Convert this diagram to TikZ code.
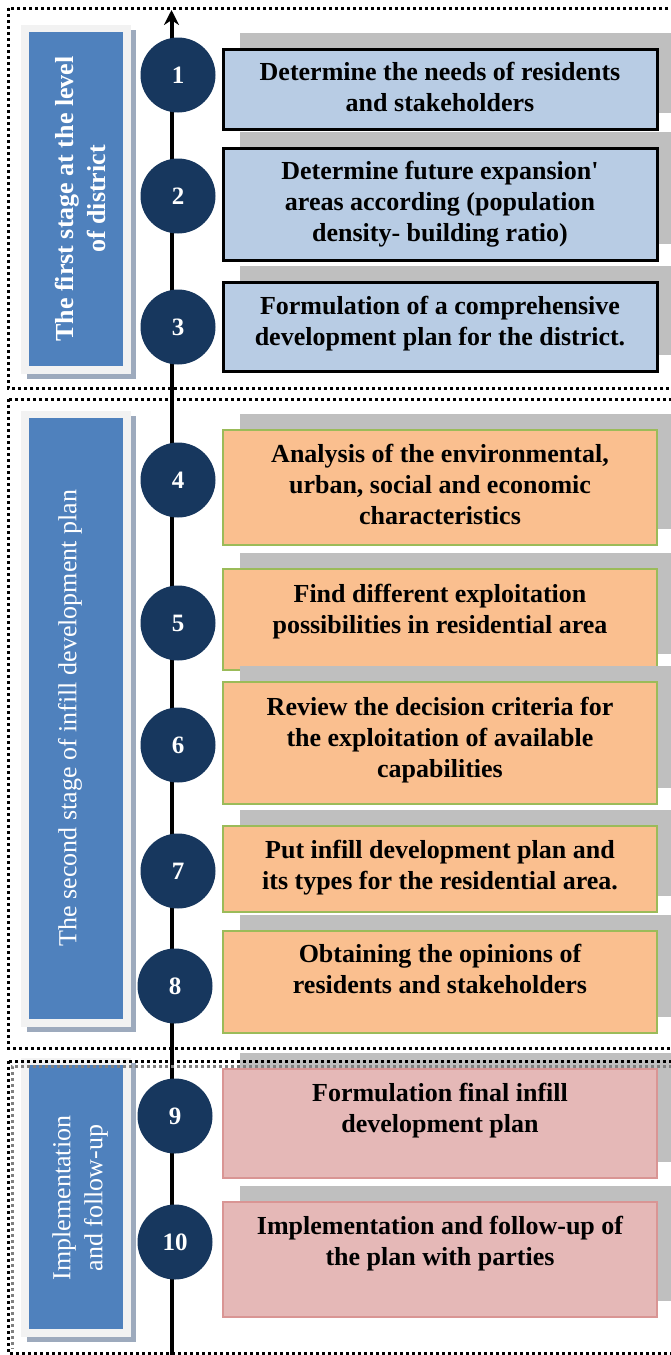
\documentclass[tikz,border=0pt]{standalone}
\usepackage{fontspec}
\setmainfont{Liberation Serif}
\usetikzlibrary{arrows.meta, positioning}
\usepackage{xcolor}
\definecolor{navy}{RGB}{23,55,94}
\definecolor{stageblue}{RGB}{79,129,189}
\definecolor{panelgray}{RGB}{242,242,242}
\definecolor{panelshadow}{RGB}{157,170,189}
\definecolor{boxshadow}{RGB}{191,191,191}
\definecolor{lightblue}{RGB}{184,204,228}
\definecolor{peach}{RGB}{250,191,143}
\definecolor{leafgreen}{RGB}{155,187,89}
\definecolor{rose}{RGB}{229,184,183}
\definecolor{roseline}{RGB}{217,149,148}
\tikzset{numnode/.style={circle, fill=navy, minimum size=75pt, inner sep=0pt, text=white, font=\bfseries\fontsize{25}{30}\selectfont},
taskbox/.style={rectangle, minimum width=434pt, inner sep=0pt, outer sep=0pt},
shadowbox/.style={taskbox, fill=boxshadow},
bluetask/.style={taskbox, fill=lightblue, draw=black, line width=3pt},
peachtask/.style={taskbox, fill=peach, draw=leafgreen, line width=2.5pt},
rosetask/.style={taskbox, fill=rose, draw=roseline, line width=2.5pt},
tasktext/.style={align=center, inner sep=0pt, font=\bfseries\fontsize{26}{31}\selectfont},
stagetext/.style={rotate=90, text=white, align=center, inner sep=0pt, font=\fontsize{26}{32}\selectfont},
stageframe/.style={draw=black, dash pattern=on 3pt off 3pt, line width=3pt}}

\begin{document}
\begin{tikzpicture}[x=1pt, y=-1pt]
        \useasboundingbox (0,0) rectangle (670,1355);
        % Task boxes with their shadows
        \foreach \n/\c/\h/\kind/\ty/\txt in {
            1/89/80/bluetask/91/{Determine the needs of residents\\and stakeholders},
            2/204/112/bluetask/206/{Determine future expansion\textquotesingle\\areas according (population\\density- building ratio)},
            3/326.5/89/bluetask/325/{Formulation of a comprehensive\\development plan for the district.},
            4/487.5/115/peachtask/489/{Analysis of the environmental,\\urban, social and economic\\characteristics},
            5/619.5/101/peachtask/613/{Find different exploitation\\possibilities in residential area},
            6/743/122/peachtask/742/{Review the decision criteria for\\the exploitation of available\\capabilities},
            7/869/86/peachtask/869/{Put infill development plan and\\its types for the residential area.},
            8/982/102/peachtask/973/{Obtaining the opinions of\\residents and stakeholders},
            9/1123.5/109/rosetask/1112/{Formulation final infill\\development plan},
            10/1259.5/115/rosetask/1245/{Implementation and follow-up of\\the plan with parties}} {
            \node[shadowbox, minimum height=\h pt] (shd\n) at (457,\c-16) {};
            \node[\kind, minimum height=\h pt] (box\n) at (440,\c) {};
            \node[tasktext] (txt\n) at (440,\ty) {\txt\strut};
        }
        % Stage panels
        \foreach \s/\t/\b in {1/25/374, 2/411/1027, 3/1058/1337} {
            \fill[panelshadow] (27,\t+5) rectangle (136,\b+5);
            \fill[panelgray] (21,\t) rectangle (131,\b);
            \fill[stageblue] (29,\t+7) rectangle (123,\b-8);
        }
        \node[stagetext, font=\bfseries\fontsize{26}{32}\selectfont] (stage1) at (80,199) {The first stage at the level\\of district};
        \node[stagetext] (stage2) at (70,718) {The second stage of infill development plan};
        \node[stagetext] (stage3) at (80,1198) {Implementation\\and follow-up};
        % Time line
        \coordinate (tlbottom) at (171.5,1360);
        \coordinate (tltop) at (171.5,10);
        \draw[line width=4pt, -{Stealth[length=15pt, width=15pt]}] (tlbottom) -- (tltop);
        % Steps
        \foreach \n/\x/\y in {1/178/75, 2/178/196, 3/178/327, 4/178/480, 5/178/623,
            6/178/745, 7/178/871, 8/175/986, 9/175/1116, 10/175/1242} {
            \node[numnode] (num\n) at (\x,\y) {\n};
        }
        % Stage frames
        \draw[stageframe] (8,8) rectangle (690,388);
        \draw[stageframe] (8,399) rectangle (690,1048);
        \draw[stageframe] (8,1061) rectangle (690,1353);
        \draw[stageframe, draw=gray] (690,1066) -- (12,1066) -- (12,1349);
    \end{tikzpicture}
\end{document}
